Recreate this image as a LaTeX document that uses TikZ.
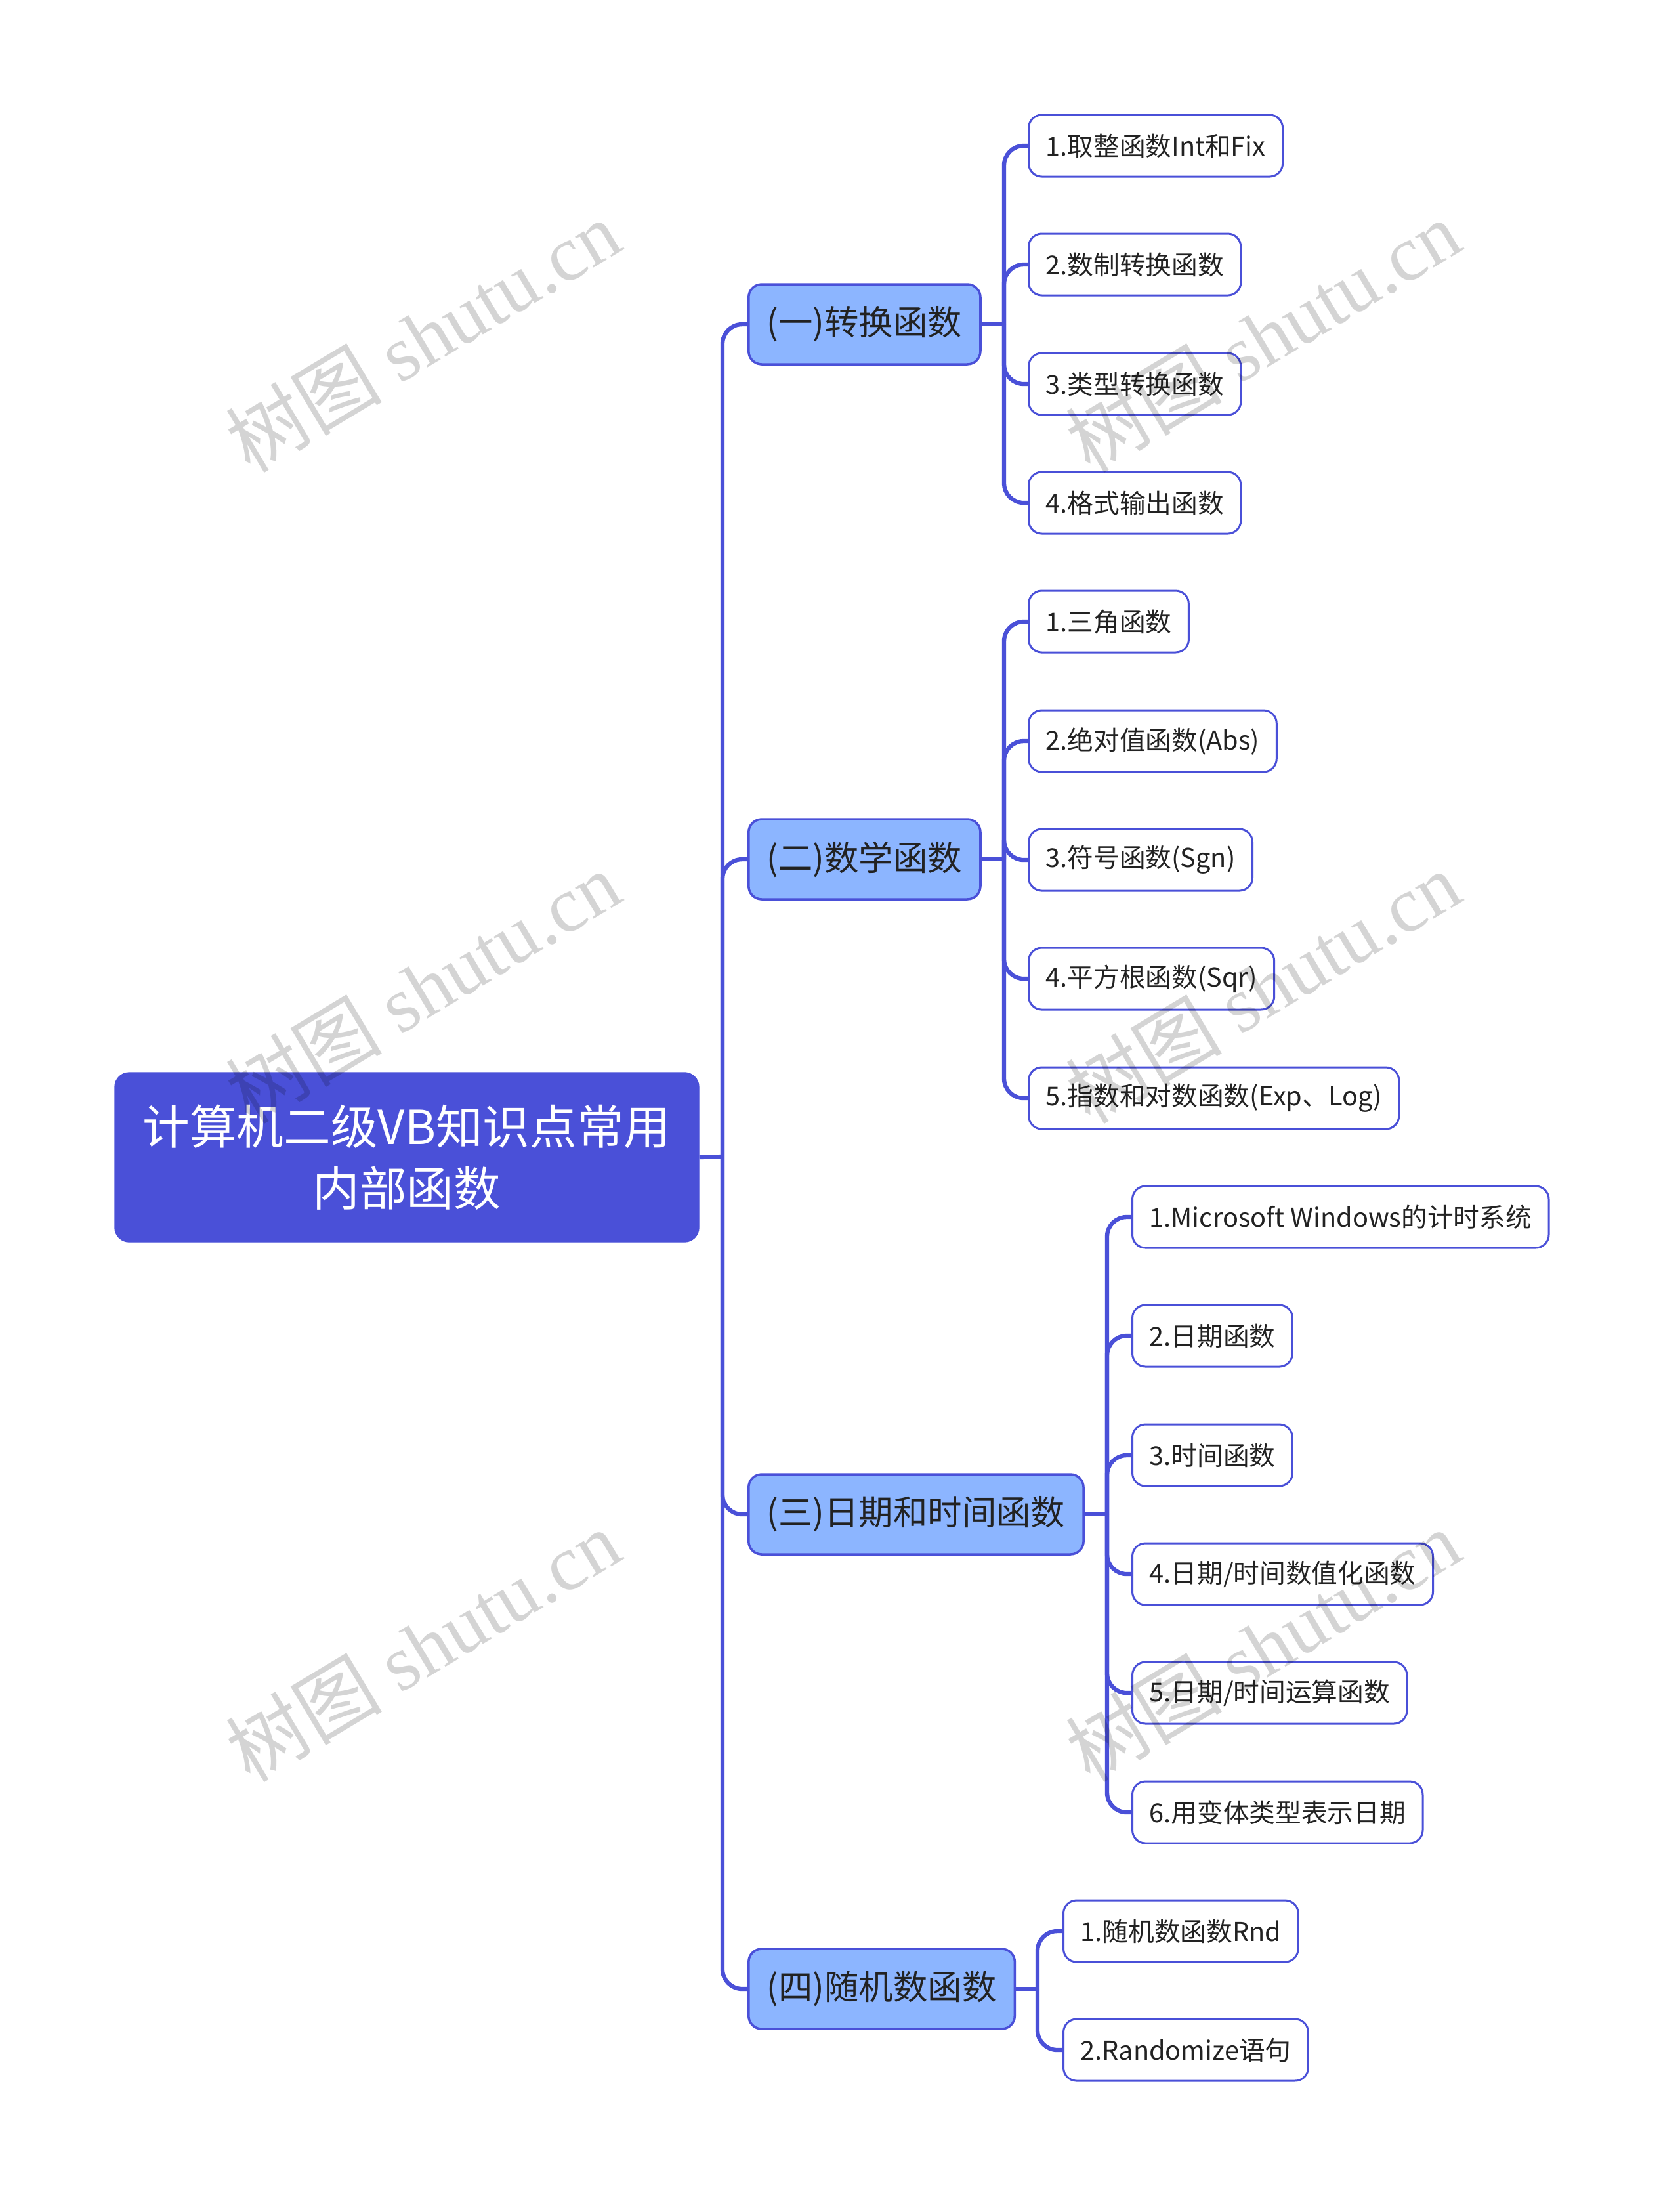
\documentclass[tikz,border=0pt]{standalone}
\usepackage{fontspec}
\setmainfont{Noto Sans CJK SC}
\newfontfamily\wmlatin{Liberation Serif}
\definecolor{mapblue}{HTML}{4A50D8}
\definecolor{branchfill}{HTML}{8CB5FF}
\definecolor{inktext}{HTML}{222222}
\tikzset{
  rootbox/.style={draw=mapblue, fill=mapblue, rounded corners=0.22cm, text=white,
    minimum width=8.9cm, minimum height=2.58cm, align=center,
    font=\fontsize{20.4pt}{26.7pt}\selectfont},
  branchbox/.style={draw=mapblue, line width=1pt, fill=branchfill, rounded corners=0.2cm,
    text=inktext, minimum height=1.22cm, inner xsep=0.28cm, anchor=west,
    font=\fontsize{14.9pt}{18pt}\selectfont},
  leafbox/.style={draw=mapblue, line width=0.85pt, fill=white, rounded corners=0.2cm,
    text=inktext, minimum height=0.94cm, inner xsep=0.26cm, anchor=west,
    font=\fontsize{11.3pt}{14pt}\selectfont},
  link/.style={draw=mapblue, line width=1.8pt, rounded corners=0.3cm},
  wmtext/.style={text=black, opacity=0.17, rotate=31, font=\fontsize{34pt}{40pt}\selectfont}
}
\begin{document}
\begin{tikzpicture}
\useasboundingbox (0,0) rectangle (25.6,-33.44);
\node[rootbox] (root) at (6.20,-17.63) {计算机二级VB知识点常用\\内部函数};

\node[branchbox] (b1) at (11.39,-4.94) {(一)转换函数};
\node[branchbox] (b2) at (11.39,-13.09) {(二)数学函数};
\node[branchbox] (b3) at (11.39,-23.07) {(三)日期和时间函数};
\node[branchbox] (b4) at (11.39,-30.30) {(四)随机数函数};

\node[leafbox] (c11) at (15.66,-2.22) {1.取整函数Int和Fix};
\node[leafbox] (c12) at (15.66,-4.03) {2.数制转换函数};
\node[leafbox] (c13) at (15.66,-5.85) {3.类型转换函数};
\node[leafbox] (c14) at (15.66,-7.66) {4.格式输出函数};

\node[leafbox] (c21) at (15.66,-9.47) {1.三角函数};
\node[leafbox] (c22) at (15.66,-11.29) {2.绝对值函数(Abs)};
\node[leafbox] (c23) at (15.66,-13.10) {3.符号函数(Sgn)};
\node[leafbox] (c24) at (15.66,-14.91) {4.平方根函数(Sqr)};
\node[leafbox] (c25) at (15.66,-16.73) {5.指数和对数函数(Exp、Log)};

\node[leafbox] (c31) at (17.24,-18.54) {1.Microsoft Windows的计时系统};
\node[leafbox] (c32) at (17.24,-20.35) {2.日期函数};
\node[leafbox] (c33) at (17.24,-22.17) {3.时间函数};
\node[leafbox] (c34) at (17.24,-23.98) {4.日期/时间数值化函数};
\node[leafbox] (c35) at (17.24,-25.79) {5.日期/时间运算函数};
\node[leafbox] (c36) at (17.24,-27.61) {6.用变体类型表示日期};

\node[leafbox] (c41) at (16.19,-29.42) {1.随机数函数Rnd};
\node[leafbox] (c42) at (16.19,-31.23) {2.Randomize语句};

\coordinate (t0) at (11.01,-17.62);
\draw[link] (root.east) -- (t0);
\draw[link] (t0) |- (b1.west);
\draw[link] (t0) |- (b2.west);
\draw[link] (t0) |- (b3.west);
\draw[link] (t0) |- (b4.west);

\coordinate (s1) at (15.30,-4.94);
\draw[link] (b1.east) -- (s1);
\draw[link] (s1) |- (c11.west);
\draw[link] (s1) |- (c12.west);
\draw[link] (s1) |- (c13.west);
\draw[link] (s1) |- (c14.west);

\coordinate (s2) at (15.30,-13.09);
\draw[link] (b2.east) -- (s2);
\draw[link] (s2) |- (c21.west);
\draw[link] (s2) |- (c22.west);
\draw[link] (s2) |- (c23.west);
\draw[link] (s2) |- (c24.west);
\draw[link] (s2) |- (c25.west);

\coordinate (s3) at (16.87,-23.07);
\draw[link] (b3.east) -- (s3);
\draw[link] (s3) |- (c31.west);
\draw[link] (s3) |- (c32.west);
\draw[link] (s3) |- (c33.west);
\draw[link] (s3) |- (c34.west);
\draw[link] (s3) |- (c35.west);
\draw[link] (s3) |- (c36.west);

\coordinate (s4) at (15.81,-30.30);
\draw[link] (b4.east) -- (s4);
\draw[link] (s4) |- (c41.west);
\draw[link] (s4) |- (c42.west);

\node[wmtext] (w1) at (6.44,-5.12) {树图 {\wmlatin shutu.cn}};
\node[wmtext] (w2) at (19.24,-5.12) {树图 {\wmlatin shutu.cn}};
\node[wmtext] (w3) at (6.44,-15.04) {树图 {\wmlatin shutu.cn}};
\node[wmtext] (w4) at (19.24,-15.04) {树图 {\wmlatin shutu.cn}};
\node[wmtext] (w5) at (6.44,-25.07) {树图 {\wmlatin shutu.cn}};
\node[wmtext] (w6) at (19.24,-25.07) {树图 {\wmlatin shutu.cn}};
\end{tikzpicture}
\end{document}
